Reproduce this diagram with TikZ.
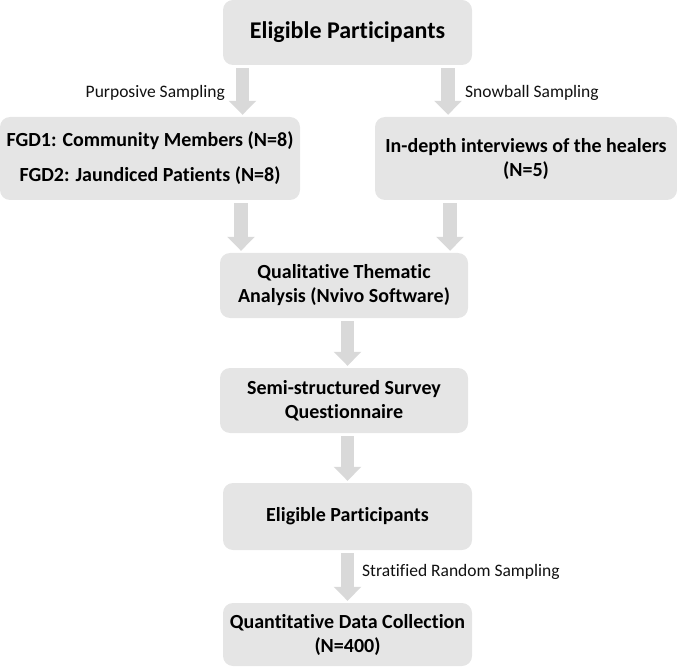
\documentclass[tikz,border=0pt]{standalone}
\usepackage{fontspec}
\setmainfont[RawFeature={-liga;-clig;-dlig}]{Carlito}
\usetikzlibrary{arrows.meta}
\definecolor{boxfill}{HTML}{E5E5E5}
\definecolor{arrowfill}{HTML}{D9D9D9}
\definecolor{labelcol}{HTML}{111111}
\tikzset{
  fbox/.style={fill=boxfill, draw=none, rounded corners=10pt, align=center, inner sep=0pt,
    font=\bfseries\fontsize{20}{24}\selectfont},
  barrow/.style={draw=arrowfill, line width=13.5pt, -{Triangle[width=27pt,length=14pt]}, shorten <=3pt, shorten >=2pt},
  slabel/.style={text=labelcol, inner sep=0pt, font=\fontsize{17.5}{21}\selectfont}
}
\begin{document}
\begin{tikzpicture}[x=1pt,y=-1pt]
\useasboundingbox (0,0) rectangle (677,668);
\node[fbox, minimum width=249pt, minimum height=65pt, font=\bfseries\fontsize{24}{28}\selectfont] (top) at (347.5,32.5) {Eligible Participants};
\node[fbox, minimum width=300pt, minimum height=83pt] (fgd) at (150,158.5) {FGD1: Community Members (N=8)\\[11pt]FGD2: Jaundiced Patients (N=8)};
\node[fbox, minimum width=302pt, minimum height=83pt] (ind) at (526,158.5) {In-depth interviews of the healers\\(N=5)};
\node[fbox, minimum width=248pt, minimum height=65pt] (qual) at (344,285.5) {Qualitative Thematic\\Analysis (Nvivo Software)};
\node[fbox, minimum width=248pt, minimum height=65pt] (semi) at (344,400.5) {Semi-structured Survey\\Questionnaire};
\node[fbox, minimum width=249pt, minimum height=67pt] (elig) at (347.5,516.5) {Eligible Participants};
\node[fbox, minimum width=249pt, minimum height=63pt] (quant) at (347.5,634.5) {Quantitative Data Collection\\(N=400)};

\coordinate (xa) at (242.5,0);
\coordinate (xb) at (448,0);
\coordinate (xc) at (241,0);
\coordinate (xd) at (450,0);
\coordinate (xe) at (347.5,0);

\draw[barrow] (top.south -| xa) -- (fgd.north -| xa);
\draw[barrow] (top.south -| xb) -- (ind.north -| xb);
\draw[barrow] (fgd.south -| xc) -- (qual.north -| xc);
\draw[barrow] (ind.south -| xd) -- (qual.north -| xd);
\draw[barrow] (qual.south -| xe) -- (semi.north -| xe);
\draw[barrow] (semi.south -| xe) -- (elig.north -| xe);
\draw[barrow] (elig.south -| xe) -- (quant.north -| xe);

\node[slabel, anchor=base east] (lp) at (225,98) {Purposive Sampling};
\node[slabel, anchor=base west] (ls) at (465,98) {Snowball Sampling};
\node[slabel, anchor=base west] (lr) at (362,576) {Stratified Random Sampling};
\end{tikzpicture}
\end{document}
